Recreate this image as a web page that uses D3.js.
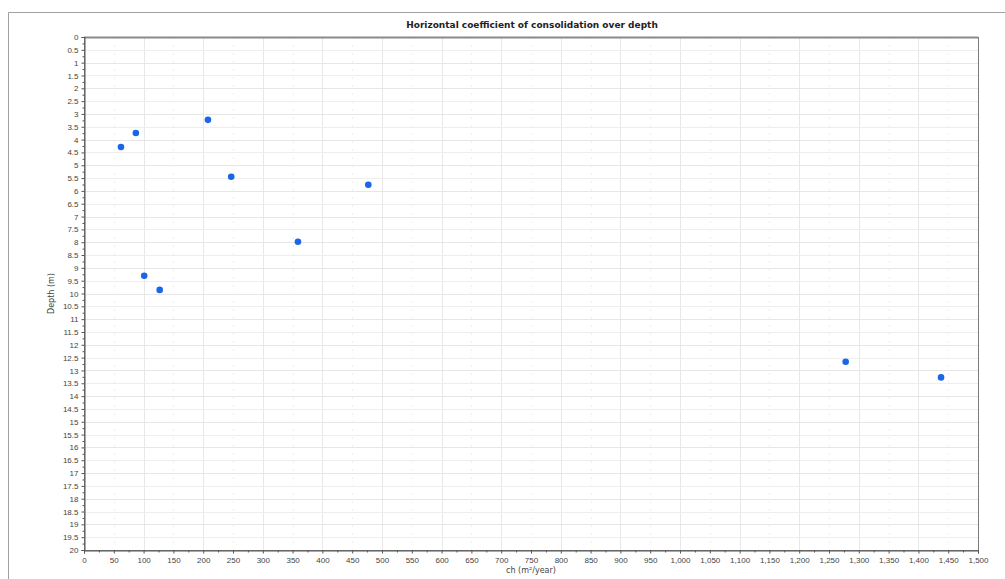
<!DOCTYPE html>
<html>
<head>
<meta charset="utf-8">
<script src="https://cdn.jsdelivr.net/npm/d3@7"></script>
<style>
  body { margin: 0; background: #fff; }
  svg { font-family: "DejaVu Sans", Verdana, sans-serif; }
</style>
</head>
<body>
<div id="chart"></div>
<script>
// ch values (m²/year) and depths (m)
var chValues = [62, 87, 208, 247, 477, 359, 101, 127, 1278, 1438];
var depthValues = [4.29, 3.74, 3.23, 5.45, 5.76, 7.98, 9.31, 9.86, 12.66, 13.27];
var xTicks = d3.range(0, 1501, 50);
var yTicks = d3.range(0, 20.01, 0.5);

var W = 1005, H = 579;
var margin = { top: 37, right: 27, bottom: 29, left: 84 },
    width = W - margin.left - margin.right,
    height = H - margin.top - margin.bottom;

var root = d3.select("#chart")
    .append("svg")
    .attr("width", W)
    .attr("height", H);

// outer frame
root.append("path")
    .attr("d", "M8.5," + H + "V12.5H" + W)
    .attr("fill", "none")
    .attr("stroke", "#a0a0a0");

var svg = root.append("g")
    .attr("transform", "translate(" + margin.left + "," + margin.top + ")");

const x = d3.scaleLinear()
    .domain([0, 1500])
    .range([0, width]);

const y = d3.scaleLinear()
    .domain([0, 20])
    .range([0, height]);

// grid (alternate lines lighter / dashed, as in the original)
svg.append("g")
    .selectAll("line")
    .data(xTicks.slice(1, -1))
    .join("line")
    .attr("x1", function (d) { return Math.round(x(d)) + 0.5; })
    .attr("x2", function (d) { return Math.round(x(d)) + 0.5; })
    .attr("y1", 0)
    .attr("y2", height)
    .attr("stroke", function (d) { return d % 100 === 0 ? "#e8e8e8" : "#efefef"; })
    .attr("stroke-dasharray", function (d) { return d % 100 === 0 ? null : "2,6"; });

svg.append("g")
    .selectAll("line")
    .data(yTicks.slice(1, -1))
    .join("line")
    .attr("y1", function (d) { return Math.round(y(d)) + 0.5; })
    .attr("y2", function (d) { return Math.round(y(d)) + 0.5; })
    .attr("x1", 0)
    .attr("x2", width)
    .attr("stroke", function (d) { return d % 1 === 0 ? "#e6e6e6" : "#eeeeee"; });

// plot frame
svg.append("rect")
    .attr("x", 0.5)
    .attr("y", 0.5)
    .attr("width", width)
    .attr("height", height)
    .attr("fill", "none")
    .attr("stroke", "#7a7a7a");
svg.append("line")
    .attr("x1", 0).attr("x2", width)
    .attr("y1", 0.5).attr("y2", 0.5)
    .attr("stroke", "#8a8a8a")
    .attr("stroke-width", 2);

// X axis
svg.append("g")
    .attr("transform", "translate(0," + (height + 0.5) + ")")
    .call(d3.axisBottom(x).tickValues(xTicks).tickFormat(d3.format(",")).tickSize(3).tickPadding(4));
svg.append("g")
    .attr("transform", "translate(0," + (height + 0.5) + ")")
    .call(d3.axisBottom(x).tickValues(d3.range(25, 1500, 50)).tickFormat("").tickSize(2))
    .select(".domain").remove();

// Y axis
svg.append("g")
    .attr("transform", "translate(0.5,0)")
    .call(d3.axisLeft(y).tickValues(yTicks).tickFormat(d3.format("")).tickSize(3).tickPadding(3));
svg.append("g")
    .attr("transform", "translate(0.5,0)")
    .call(d3.axisLeft(y).tickValues(d3.range(0.25, 20, 0.5)).tickFormat("").tickSize(2))
    .select(".domain").remove();

svg.selectAll(".tick line").attr("stroke", "#555");
svg.selectAll(".domain").attr("stroke", "#555");
svg.selectAll(".tick text")
    .style("font-size", "8px")
    .attr("fill", "#444");

// dots
svg.append("g")
    .selectAll("circle")
    .data(chValues)
    .join("circle")
    .attr("cx", function (d) { return x(d); })
    .attr("cy", function (d, i) { return y(depthValues[i]); })
    .attr("r", 3.3)
    .style("fill", "#1a66e8");

// Title
svg.append("text")
    .attr("x", width / 2 + 1)
    .attr("y", -9)
    .attr("text-anchor", "middle")
    .style("font-size", "9px")
    .style("font-weight", "bold")
    .attr("fill", "#222")
    .text("Horizontal coefficient of consolidation over depth");

// X axis label
svg.append("text")
    .attr("transform", "translate(" + (width / 2) + "," + (height + 23) + ")")
    .style("text-anchor", "middle")
    .style("font-size", "8px")
    .attr("fill", "#444")
    .text("ch (m²/year)");

// Y axis label
svg.append("text")
    .attr("transform", "rotate(-90)")
    .attr("x", -height / 2)
    .attr("y", -30)
    .style("text-anchor", "middle")
    .style("font-size", "8px")
    .attr("fill", "#444")
    .text("Depth (m)");
</script>
</body>
</html>
